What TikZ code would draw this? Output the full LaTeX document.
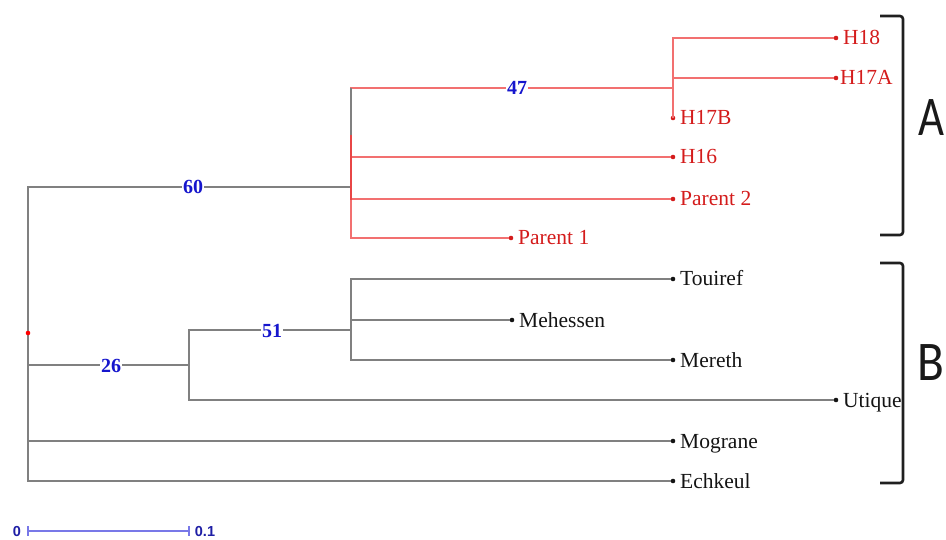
\documentclass[tikz,border=0pt]{standalone}
\usepackage{fontspec}
\setmainfont{Liberation Serif}
\newfontfamily\brkfont{Carlito}
\newfontfamily\barfont{Liberation Sans}
\definecolor{edgegray}{RGB}{128,128,128}
\definecolor{edgered}{RGB}{242,112,112}
\definecolor{edgeredd}{RGB}{232,70,70}
\definecolor{txtred}{RGB}{212,28,28}
\definecolor{txtblack}{RGB}{20,20,20}
\definecolor{bootblue}{RGB}{22,22,205}
\definecolor{barblue}{RGB}{120,120,232}
\definecolor{bardark}{RGB}{30,30,165}
\tikzset{
  gline/.style={draw=edgegray, line width=1.4pt},
  rline/.style={draw=edgered, line width=1.4pt},
  leafdot/.style={circle, fill=#1, inner sep=0pt, minimum size=4.6pt},
  lab/.style={anchor=base west, font=\fontsize{21.5}{24}\selectfont, text=#1, inner sep=0pt, xshift=7pt, yshift=-7pt},
  boot/.style={fill=white, inner sep=1pt, font=\fontsize{20}{22}\selectfont\bfseries, text=bootblue},
  bracketline/.style={draw=black!88, line width=2.6pt, rounded corners=3pt},
  bigletter/.style={font=\brkfont\fontsize{56}{56}\selectfont, text=black!90, inner sep=0pt},
  barlab/.style={font=\barfont\bfseries\fontsize{14.5}{14.5}\selectfont, text=bardark, inner sep=0pt},
}
\begin{document}
\begin{tikzpicture}[x=1pt,y=-1pt]
\useasboundingbox (0,0) rectangle (946,540);
% internal nodes
\coordinate (R)  at (28,333);
\coordinate (N1) at (351,187);
\coordinate (N2) at (673,88);
\coordinate (N3) at (189,365);
\coordinate (N4) at (351,330);
% leaves
\node[leafdot=txtred] (H18)  at (836,38)  {};
\node[leafdot=txtred] (H17A) at (836,78)  {};
\node[leafdot=txtred] (H17B) at (673,118) {};
\node[leafdot=txtred] (H16)  at (673,157) {};
\node[leafdot=txtred] (P2)   at (673,199) {};
\node[leafdot=txtred] (P1)   at (511,238) {};
\node[leafdot=txtblack] (Tou) at (673,279) {};
\node[leafdot=txtblack] (Meh) at (512,320) {};
\node[leafdot=txtblack] (Mer) at (673,360) {};
\node[leafdot=txtblack] (Uti) at (836,400) {};
\node[leafdot=txtblack] (Mog) at (673,441) {};
\node[leafdot=txtblack] (Ech) at (673,481) {};
% gray edges
\draw[gline] (R) |- (N1);
\draw[gline] (R) |- (N3);
\draw[gline] (R) |- (Mog);
\draw[gline] (R) |- (Ech);
\draw[gline] (N3) |- (N4);
\draw[gline] (N3) |- (Uti);
\draw[gline] (N4) |- (Tou);
\draw[gline] (N4) |- (Meh);
\draw[gline] (N4) |- (Mer);
% red edges
\draw[rline] (N1) |- (N2);
\draw[rline] (N1) |- (H16);
\draw[rline] (N1) |- (P2);
\draw[rline] (N1) |- (P1);
\draw[rline] (N2) |- (H18);
\draw[rline] (N2) |- (H17A);
\draw[rline] (N2) |- (H17B);
% vertical of cluster A: gray top, thicker red middle
\coordinate (vA) at (351,135);
\coordinate (vB) at (351,200);
\draw[gline] (N1 |- N2) -- (vA);
\draw[draw=edgeredd, line width=2.4pt] (vA) -- (vB);
% root dot
\node[leafdot=red] (rootdot) at (R) {};
% bootstrap labels
\node[boot] (b60) at (193,187) {60};
\node[boot] (b47) at (517,88) {47};
\node[boot] (b51) at (272,331) {51};
\node[boot] (b26) at (111,366) {26};
% leaf labels
\node[lab=txtred] (tH18) at (H18.center) {H18};
\node[lab=txtred, xshift=-3pt] (tH17A) at (H17A.center) {H17A};
\node[lab=txtred] (tH17B) at (H17B.center) {H17B};
\node[lab=txtred] (tH16) at (H16.center) {H16};
\node[lab=txtred] (tP2) at (P2.center) {Parent 2};
\node[lab=txtred] (tP1) at (P1.center) {Parent 1};
\node[lab=txtblack] (tTou) at (Tou.center) {Touiref};
\node[lab=txtblack] (tMeh) at (Meh.center) {Mehessen};
\node[lab=txtblack] (tMer) at (Mer.center) {Mereth};
\node[lab=txtblack] (tUti) at (Uti.center) {Utique};
\node[lab=txtblack] (tMog) at (Mog.center) {Mograne};
\node[lab=txtblack] (tEch) at (Ech.center) {Echkeul};
% brackets
\draw[bracketline] (880,16) -- (903,16) -- (903,235) -- (880,235);
\draw[bracketline] (880,263) -- (903,263) -- (903,483) -- (880,483);
\node[bigletter] (lA) at (931,118) {\scalebox{0.8}[1]{A}};
\node[bigletter] (lB) at (931,363) {\scalebox{0.88}[1]{B}};
% scale bar
\coordinate (s0) at (28,531);
\coordinate (s1) at (189,531);
\draw[draw=barblue, line width=1.3pt] (s0) -- (s1);
\draw[draw=barblue, line width=1.3pt] ([yshift=5pt]s0) -- ([yshift=-5pt]s0);
\draw[draw=barblue, line width=1.3pt] ([yshift=5pt]s1) -- ([yshift=-5pt]s1);
\node[barlab] (z0) at (17,532) {0};
\node[barlab] (z1) at (205,532) {0.1};
\end{tikzpicture}
\end{document}
